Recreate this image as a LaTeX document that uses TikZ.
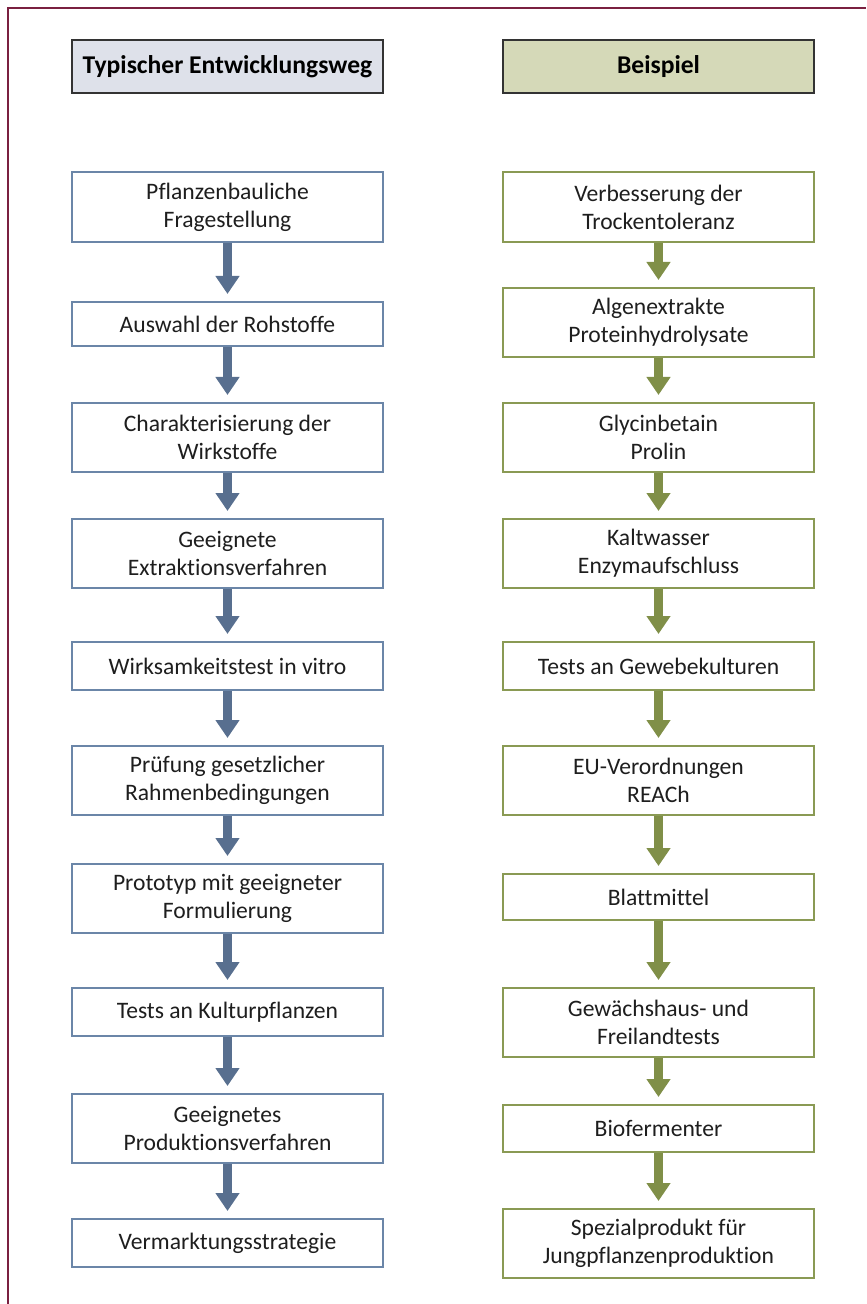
\documentclass[tikz,border=0pt]{standalone}
\usepackage{fontspec}
\setmainfont{Carlito}[Ligatures={NoCommon}]
\usepackage{tikz}
\usetikzlibrary{arrows.meta,positioning}
\definecolor{pathblue}{RGB}{107,134,168}
\definecolor{patharrow}{RGB}{88,111,143}
\definecolor{exgreen}{RGB}{138,154,84}
\definecolor{exarrow}{RGB}{128,143,72}
\definecolor{headblue}{RGB}{222,225,234}
\definecolor{headgreen}{RGB}{213,217,184}
\definecolor{framered}{RGB}{122,32,64}
\definecolor{textgray}{RGB}{30,30,30}

\begin{document}
\begin{tikzpicture}[x=0.5pt, y=-0.5pt,
    box/.style={draw, line width=1pt, fill=white, text=textgray, align=center,
      minimum width=155.5pt, inner sep=0pt, font=\fontsize{11.8}{14}\selectfont},
    pathbox/.style={box, draw=pathblue},
    exbox/.style={box, draw=exgreen},
    headbox/.style={draw=black!80, line width=0.8pt, text=black, align=center,
      minimum width=155.5pt, minimum height=26.5pt, inner sep=0pt,
      font=\fontsize{12.8}{14}\selectfont\bfseries},
    flow/.style={line width=4.5pt, -{Triangle[width=11.5pt,length=9pt]}, shorten >=3.5pt}]
  \useasboundingbox (0,0) rectangle (866,1304);

  % Frame
  \draw[framered, line width=1.2pt] (8,1304) -- (8,8) -- (866,8);

  % Headers
  \node[headbox, fill=headblue] (lh) at (227.5,66.5) {Typischer Entwicklungsweg};
  \node[headbox, fill=headgreen] (rh) at (658.5,66.5) {Beispiel};

  % Typical path
  \node[pathbox, minimum height=35pt] (l1) at (227.5,207) {Pflanzenbauliche\\Fragestellung};
  \node[pathbox, minimum height=22pt] (l2) at (227.5,324) {Auswahl der Rohstoffe};
  \node[pathbox, minimum height=34.5pt] (l3) at (227.5,437.5) {Charakterisierung der\\Wirkstoffe};
  \node[pathbox, minimum height=34.5pt] (l4) at (227.5,553.5) {Geeignete\\Extraktionsverfahren};
  \node[pathbox, minimum height=24pt] (l5) at (227.5,666) {Wirksamkeitstest in vitro};
  \node[pathbox, minimum height=34.5pt] (l6) at (227.5,780.5) {Prüfung gesetzlicher\\Rahmenbedingungen};
  \node[pathbox, minimum height=34.5pt] (l7) at (227.5,898.5) {Prototyp mit geeigneter\\Formulierung};
  \node[pathbox, minimum height=24pt] (l8) at (227.5,1012) {Tests an Kulturpflanzen};
  \node[pathbox, minimum height=34.5pt] (l9) at (227.5,1128.5) {Geeignetes\\Produktionsverfahren};
  \node[pathbox, minimum height=24pt] (l10) at (227.5,1243) {Vermarktungsstrategie};

  % Example
  \node[exbox, minimum height=35pt] (r1) at (658.5,207) {Verbesserung der\\Trockentoleranz};
  \node[exbox, minimum height=34.5pt] (r2) at (658.5,322.5) {Algenextrakte\\Proteinhydrolysate};
  \node[exbox, minimum height=34.5pt] (r3) at (658.5,437.5) {Glycinbetain\\Prolin};
  \node[exbox, minimum height=34.5pt] (r4) at (658.5,553.5) {Kaltwasser\\Enzymaufschluss};
  \node[exbox, minimum height=24pt] (r5) at (658.5,666) {Tests an Gewebekulturen};
  \node[exbox, minimum height=34.5pt] (r6) at (658.5,780.5) {EU-Verordnungen\\REACh};
  \node[exbox, minimum height=23pt] (r7) at (658.5,897) {Blattmittel};
  \node[exbox, minimum height=34.5pt] (r8) at (658.5,1022.5) {Gewächshaus- und\\Freilandtests};
  \node[exbox, minimum height=23.5pt] (r9) at (658.5,1128.5) {Biofermenter};
  \node[exbox, minimum height=34.5pt] (r10) at (658.5,1243.5) {Spezialprodukt für\\Jungpflanzenproduktion};

  % Arrows
  \foreach \a/\b in {l1/l2,l2/l3,l3/l4,l4/l5,l5/l6,l6/l7,l7/l8,l8/l9,l9/l10}
    \draw[flow, patharrow] (\a.south) -- (\b.north);
  \foreach \a/\b in {r1/r2,r2/r3,r3/r4,r4/r5,r5/r6,r6/r7,r7/r8,r8/r9,r9/r10}
    \draw[flow, exarrow] (\a.south) -- (\b.north);
\end{tikzpicture}
\end{document}
